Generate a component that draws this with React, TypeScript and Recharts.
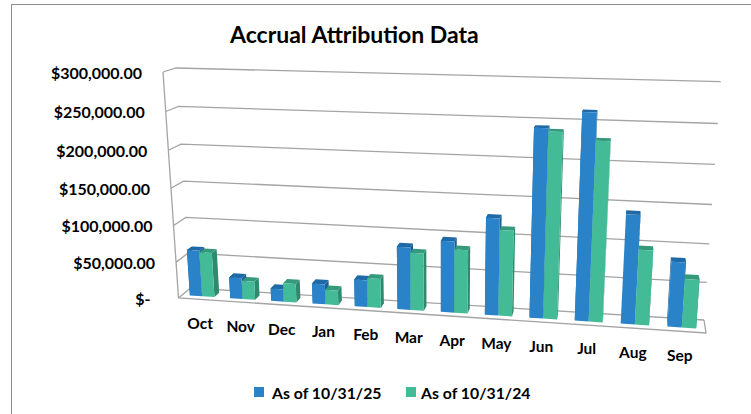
import { Bar, BarChart, CartesianGrid, Legend, XAxis, YAxis } from "recharts";

const months = ["Oct", "Nov", "Dec", "Jan", "Feb", "Mar", "Apr", "May", "Jun", "Jul", "Aug", "Sep"];
const asOf2025 = [63500, 29000, 17000, 27500, 36500, 84000, 95000, 128000, 243000, 264000, 141000, 84000];
const asOf2024 = [61500, 25000, 25500, 20000, 39500, 77000, 84500, 113000, 239000, 230000, 97000, 63000];
const yTicks = [0, 50000, 100000, 150000, 200000, 250000, 300000];

const chartData = months.map((month, i) => ({
  month,
  a: asOf2025[i],
  b: asOf2024[i],
}));

const FONT = "Lato, Carlito, sans-serif";
const GRID = "#a4a4a4";
const BLUE = "#2a83c9";
const BLUE_TOP = "#1f69a6";
const BLUE_DARK = "#1d5f95";
const GREEN = "#42bb96";
const GREEN_TOP = "#359a7b";
const GREEN_DARK = "#2e8a6d";

// plot box inside the svg, everything gets warped from here
const PLOT = { left: 170, top: 70, width: 551, height: 230 };

type Pt = [number, number];

// corners of the tilted box: tl, tr, br, bl
const frontWall: Pt[] = [[163, 72], [723.5, 87], [706, 333], [178.5, 298]];
const backWall: Pt[] = [[176, 68], [720.7, 81.7], [704, 320], [190.5, 288]];

function homography(q: Pt[]) {
  const [[x0, y0], [x1, y1], [x2, y2], [x3, y3]] = q;
  const dx1 = x1 - x2;
  const dx2 = x3 - x2;
  const sx = x0 - x1 + x2 - x3;
  const dy1 = y1 - y2;
  const dy2 = y3 - y2;
  const sy = y0 - y1 + y2 - y3;
  const den = dx1 * dy2 - dx2 * dy1;
  const g = (sx * dy2 - dx2 * sy) / den;
  const h = (dx1 * sy - sx * dy1) / den;
  const a = x1 - x0 + g * x1;
  const b = x3 - x0 + h * x3;
  const d = y1 - y0 + g * y1;
  const e = y3 - y0 + h * y3;
  return (u: number, v: number): Pt => {
    const w = g * u + h * v + 1;
    return [(a * u + b * v + x0) / w, (d * u + e * v + y0) / w];
  };
}

// depth 0 = front edge of the box, 1 = back wall
function planeAt(t: number) {
  const q = frontWall.map((p, i): Pt => [
    p[0] + (backWall[i][0] - p[0]) * t,
    p[1] + (backWall[i][1] - p[1]) * t,
  ]);
  return homography(q);
}

const onFront = planeAt(0);
const onBack = planeAt(1);
const barFront = planeAt(0.3);
const barBack = planeAt(0.72);

const toU = (x: number) => (x - PLOT.left) / PLOT.width;
const toV = (y: number) => (y - PLOT.top) / PLOT.height;

const poly = (pts: Pt[]) => pts.map((p) => p.join(",")).join(" ");

function WarpedBar({ x, y, width, height, fill, dark, top, skipLeft }: any) {
  const u0 = toU(x);
  const u1 = toU(x + width);
  const v0 = toV(y);
  const v1 = toV(y + height);
  const fTL = barFront(u0, v0);
  const fTR = barFront(u1, v0);
  const fBR = barFront(u1, v1);
  const fBL = barFront(u0, v1);
  const bTL = barBack(u0, v0);
  const bTR = barBack(u1, v0);
  const bBR = barBack(u1, v1);
  const bBL = barBack(u0, v1);
  return (
    <g>
      {skipLeft ? null : <polygon points={poly([fTL, bTL, bBL, fBL])} fill={dark} />}
      <polygon points={poly([fTR, bTR, bBR, fBR])} fill={dark} />
      <polygon points={poly([fTL, fTR, bTR, bTL])} fill={top} />
      <polygon points={poly([fTL, fTR, fBR, fBL])} fill={fill} />
    </g>
  );
}

function GridLine({ y1 }: any) {
  const v = toV(y1);
  const a = onFront(0, v);
  const b = onBack(0, v);
  const c = onBack(1, v);
  return (
    <polyline
      key={y1}
      points={poly([a, b, c])}
      fill="none"
      stroke={GRID}
      strokeWidth={1.3}
    />
  );
}

function BoxEdges() {
  return (
    <g fill="none" stroke={GRID} strokeWidth={1.3}>
      <polyline points={poly([onFront(0, 0), onFront(0, 1), onFront(1, 1), onBack(1, 1)])} />
    </g>
  );
}

function YTick({ y, payload }: any) {
  const [px, py] = onFront(0, toV(y));
  const zero = payload.value === 0;
  return (
    <text
      x={px - (zero ? 28 : 21)}
      y={py}
      textAnchor="end"
      dominantBaseline="central"
      fontFamily={FONT}
      fontWeight={700}
      fontSize={16}
      fill="#000"
    >
      {zero ? "$-" : "$" + payload.value.toLocaleString("en-US") + ".00"}
    </text>
  );
}

function XTick({ x, payload }: any) {
  const [px, py] = barFront(toU(x), 1);
  return (
    <text
      x={px - 2}
      y={py + 27}
      textAnchor="middle"
      dominantBaseline="central"
      fontFamily={FONT}
      fontWeight={700}
      fontSize={15.5}
      fill="#000"
    >
      {payload.value}
    </text>
  );
}

function LegendRow({ payload }: any) {
  return (
    <div style={{ position: "relative", height: 24, fontFamily: FONT, fontWeight: 700, fontSize: 15.8, color: "#000" }}>
      {(payload ?? []).map((item: any, i: number) => (
        <div
          key={item.value}
          style={{ position: "absolute", left: i === 0 ? 254 : 406, top: 0, display: "flex", alignItems: "center", height: 24, whiteSpace: "nowrap" }}
        >
          <span style={{ width: 10, height: 10, background: item.color, marginRight: i === 0 ? 8 : 5 }} />
          {item.value}
        </div>
      ))}
    </div>
  );
}

export default function App() {
  return (
    <div style={{ position: "absolute", left: 0, top: 0, width: 751, height: 414, overflow: "hidden", background: "#fff" }}>
      <div
        style={{
          position: "absolute",
          left: 11,
          top: 4,
          width: 760,
          height: 430,
          borderLeft: "1.5px solid #8c8c8c",
          borderTop: "1.5px solid #8c8c8c",
        }}
      />
      <div
        style={{
          position: "absolute",
          left: 230,
          top: 20,
          fontFamily: FONT,
          fontWeight: 700,
          fontSize: 23,
          color: "#000",
          whiteSpace: "nowrap",
        }}
      >
        Accrual Attribution Data
      </div>
      <BarChart
        width={751}
        height={414}
        data={chartData}
        margin={{ top: 70, right: 30, bottom: 60, left: 100 }}
        barCategoryGap="19.5%"
        barGap={0}
        style={{ position: "absolute", left: 0, top: 0 }}
      >
        <CartesianGrid vertical={false} horizontal={(p: any) => <GridLine key={p.y1} {...p} />} />
        <BoxEdges />
        <XAxis dataKey="month" height={30} interval={0} axisLine={false} tickLine={false} tick={<XTick />} />
        <YAxis
          width={70}
          domain={[0, 300000]}
          ticks={yTicks}
          interval={0}
          axisLine={false}
          tickLine={false}
          tick={<YTick />}
        />
        <Legend
          content={<LegendRow />}
          itemSorter="dataKey"
          wrapperStyle={{ left: 0, top: 380, bottom: "auto", width: 751 }}
        />
        <Bar
          dataKey="a"
          name="As of 10/31/25"
          fill={BLUE}
          isAnimationActive={false}
          shape={(p: any) => <WarpedBar {...p} dark={BLUE_DARK} top={BLUE_TOP} />}
        />
        <Bar
          dataKey="b"
          name="As of 10/31/24"
          fill={GREEN}
          isAnimationActive={false}
          shape={(p: any) => <WarpedBar {...p} dark={GREEN_DARK} top={GREEN_TOP} skipLeft />}
        />
      </BarChart>
    </div>
  );
}
